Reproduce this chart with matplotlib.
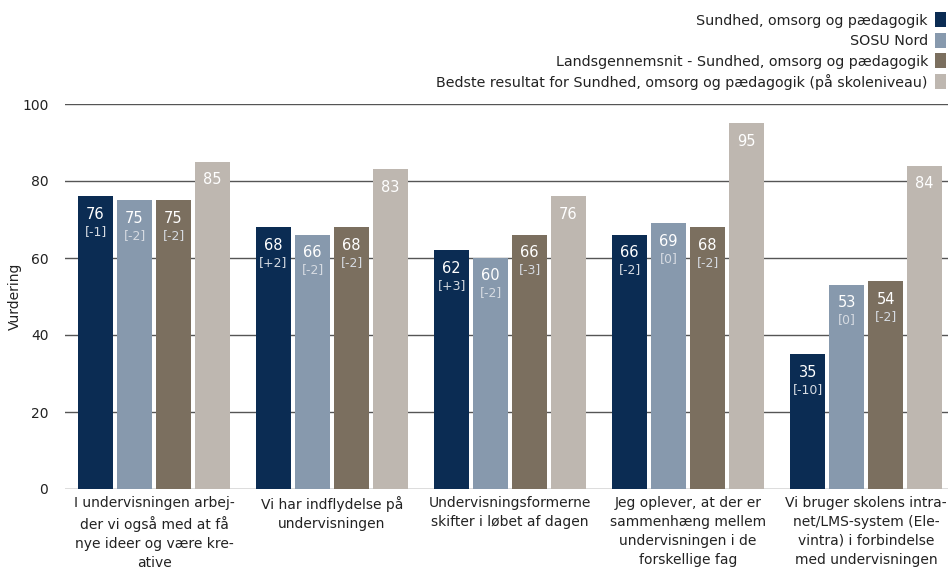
import numpy as np
import matplotlib.pyplot as plt
from matplotlib.patches import Patch

# Categories (x labels, already hyphenated like the source)
categories = [
    'I undervisningen arbej-\nder vi også med at få\nnye ideer og være kre-\native',
    'Vi har indflydelse på\nundervisningen',
    'Undervisningsformerne\nskifter i løbet af dagen',
    'Jeg oplever, at der er\nsammenhæng mellem\nundervisningen i de\nforskellige fag',
    'Vi bruger skolens intra-\nnet/LMS-system (Ele-\nvintra) i forbindelse\nmed undervisningen',
]

series_names = [
    'Sundhed, omsorg og pædagogik',
    'SOSU Nord',
    'Landsgennemsnit - Sundhed, omsorg og pædagogik',
    'Bedste resultat for Sundhed, omsorg og pædagogik (på skoleniveau)',
]

sundhed = [76, 68, 62, 66, 35]
sosu_nord = [75, 66, 60, 69, 53]
landsgns = [75, 68, 66, 68, 54]
bedste = [85, 83, 76, 95, 84]

sundhed_diff = ['[-1]', '[+2]', '[+3]', '[-2]', '[-10]']
sosu_diff = ['[-2]', '[-2]', '[-2]', '[0]', '[0]']
lands_diff = ['[-2]', '[-2]', '[-3]', '[-2]', '[-2]']
bedste_diff = [None, None, None, None, None]

colors = ['#0b2c53', '#8799ad', '#7b6f5f', '#beb7b0']

values = [sundhed, sosu_nord, landsgns, bedste]
diffs = [sundhed_diff, sosu_diff, lands_diff, bedste_diff]

fig = plt.figure(figsize=(9.48, 5.69), dpi=100)
ax = fig.add_axes([65 / 948, (569 - 489) / 569, 1 - 65 / 948, 385 / 569])
ax.set_axisbelow(True)

x = np.arange(len(categories))
pitch = 0.219
width = 0.196

for i, (vals, dlist, col) in enumerate(zip(values, diffs, colors)):
    pos = x + (i - 1.5) * pitch
    ax.bar(pos, vals, width=width, color=col, zorder=2, label=series_names[i])
    for px, v, d in zip(pos, vals, dlist):
        ax.annotate(str(v), (px, v), xytext=(0, -18), textcoords='offset pixels',
                    ha='center', va='center', color='white', fontsize=10.5, zorder=3)
        if d is not None:
            ax.annotate(d, (px, v), xytext=(0, -35), textcoords='offset pixels',
                        ha='center', va='center', color='#d6dbe2', fontsize=9, zorder=3)

ax.set_ylim(0, 100)
ax.set_xlim(-0.5, 4.46)
ax.set_yticks([0, 20, 40, 60, 80, 100])
ax.set_xticks(x)
ax.set_xticklabels(categories, fontsize=10, color='#222222', linespacing=1.45)
ax.tick_params(axis='both', length=0, labelsize=10, colors='#222222')
ax.tick_params(axis='y', pad=12)
ax.tick_params(axis='x', pad=5)
ax.grid(axis='y', color='#555555', linewidth=1, zorder=0)
for s in ax.spines.values():
    s.set_visible(False)

ax.set_ylabel('Vurdering', fontsize=10, color='#222222')
ax.yaxis.set_label_coords(-0.049, 0.5)

handles = [Patch(facecolor=c) for c in colors]
fig.legend(handles, series_names, loc='upper right', bbox_to_anchor=(1.0, 1 - 10 / 569),
           frameon=False, markerfirst=False, fontsize=10.3, handlelength=0.75,
           handleheight=1.25, handletextpad=0.5, labelspacing=0.36,
           borderpad=0.0, borderaxespad=0.15, labelcolor='#222222')

plt.savefig('out.png', dpi=100)
